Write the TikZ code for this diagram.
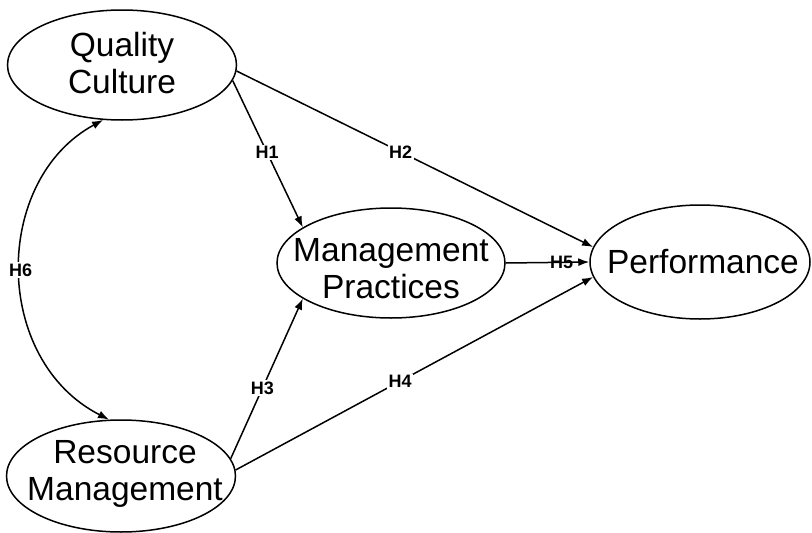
\documentclass[tikz,border=0pt]{standalone}
\usepackage{fontspec}
\setmainfont{Liberation Sans}
\usetikzlibrary{arrows.meta,shapes.geometric}
\begin{document}
\begin{tikzpicture}[x=1pt,y=-1pt,
  construct/.style={draw, line width=1.5pt, ellipse, inner sep=0pt},
  ctext/.style={align=center, inner sep=0pt, font=\fontsize{33.5}{37}\selectfont},
  link/.style={line width=1.5pt, -{Latex[length=11pt,width=8pt]}},
  hlabel/.style={fill=white, inner sep=1.5pt, font=\bfseries\fontsize{18}{18}\selectfont},
  hlabelplain/.style={inner sep=1.5pt, font=\bfseries\fontsize{18}{18}\selectfont}]
\useasboundingbox (0,0) rectangle (812,533);
% constructs
\node[construct, minimum width=229pt, minimum height=110pt] (qc) at (122,65) {};
\node[construct, minimum width=229pt, minimum height=112pt] (rm) at (121,476) {};
\node[construct, minimum width=228pt, minimum height=110pt] (mp) at (391,263) {};
\node[construct, minimum width=220pt, minimum height=114pt] (pf) at (700,262) {};
\node[ctext] (qct) at ([yshift=2pt]qc.center) {Quality\\Culture};
\node[ctext] (rmt) at ([xshift=4pt,yshift=2.5pt]rm.center) {Resource\\Management};
\node[ctext] (mpt) at ([yshift=-6pt]mp.center) {Management\\Practices};
\node[ctext] (pft) at ([xshift=3pt]pf.center) {Performance};
% paths
\draw[link] (qc.-8) -- node[hlabel, pos=0.49] {H1} (mp.158);
\draw[link] (qc.-3.5) -- node[hlabel, pos=0.46] {H2} (pf.172);
\draw[link] (rm.9) -- node[hlabel, pos=0.44] {H3} (mp.-158);
\draw[link] (rm.3) -- node[hlabel, pos=0.46] {H4} (pf.-172);
\draw[link] (mp.east) -- node[hlabelplain, pos=0.67] {H5} (pf.west);
\draw[line width=1.5pt, {Latex[length=11pt,width=8pt]}-{Latex[length=11pt,width=8pt]}]
  (qc.-109) .. controls (-8,180) and (-8,360) .. node[hlabel, pos=0.5] {H6} (rm.102);
\end{tikzpicture}
\end{document}
